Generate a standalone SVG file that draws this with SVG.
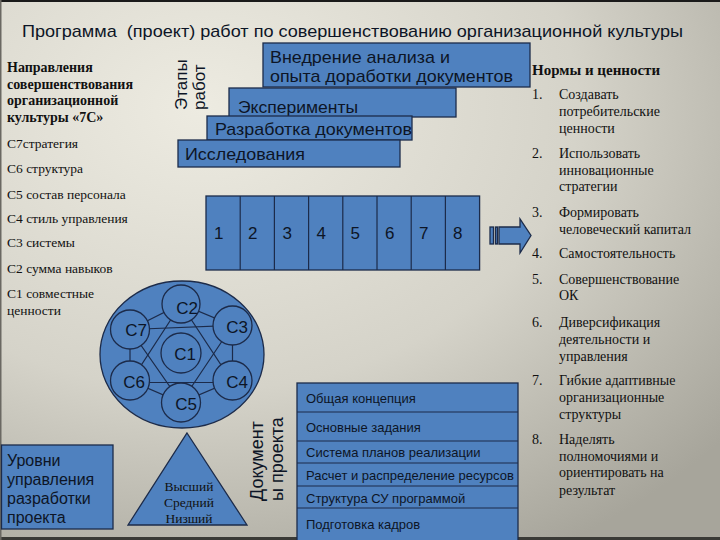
<svg xmlns="http://www.w3.org/2000/svg" width="720" height="540" viewBox="0 0 720 540">
<defs>
<radialGradient id="bg" cx="0.28" cy="0.2" r="0.95">
<stop offset="0" stop-color="#edebe1"/>
<stop offset="0.55" stop-color="#d5d3c9"/>
<stop offset="1" stop-color="#a7a59b"/>
</radialGradient>
<style>
.box{fill:#4f81bf;stroke:#1c2b4a;stroke-width:1.3}
.ln{stroke:#1c2b4a;stroke-width:1.2;fill:none}
.sans{font-family:"Liberation Sans",Arial,sans-serif;fill:#0d1526}
.st{font-size:17px}
.num{font-size:17px}
.doc{font-size:13px}
.cl{font-size:17px;text-anchor:middle}
.serif{font-family:"Liberation Serif","Times New Roman",serif;fill:#111}
.ls{font-size:13.5px}
.hd{font-size:14px;font-weight:bold}
.rs{font-size:14px}
.rh{font-size:15px;font-weight:bold}
.tri{font-size:13.5px;text-anchor:middle}
</style>
</defs>
<rect width="720" height="540" fill="url(#bg)"/>
<rect x="0" y="0" width="720" height="2" fill="#1a1a1a"/>
<rect x="0" y="537" width="720" height="3" fill="#3a3a36"/>
<rect x="0" y="0" width="1.5" height="540" fill="#6a6862"/>

<text id="title" class="sans" x="22" y="37" font-size="17" textLength="661" lengthAdjust="spacingAndGlyphs" fill="#111">Программа&#160; (проект) работ по совершенствованию организационной культуры</text>

<g id="directions" class="serif">
<text class="hd" x="7" y="72">Направления</text>
<text class="hd" x="7" y="89">совершенствования</text>
<text class="hd" x="7" y="105">организационной</text>
<text class="hd" x="7" y="122">культуры «7С»</text>
<text class="ls" x="7" y="148">С7стратегия</text>
<text class="ls" x="7" y="173">С6 структура</text>
<text class="ls" x="7" y="199">С5 состав персонала</text>
<text class="ls" x="7" y="223">С4 стиль управления</text>
<text class="ls" x="7" y="247">С3 системы</text>
<text class="ls" x="7" y="273">С2 сумма навыков</text>
<text class="ls" x="7" y="298">С1 совместные</text>
<text class="ls" x="7" y="315">ценности</text>
</g>

<g id="stages-label" class="sans" font-size="17">
<text transform="translate(187,110) rotate(-90)">Этапы</text>
<text transform="translate(205,110) rotate(-90)">работ</text>
</g>

<g id="stages">
<g id="stage-4">
<rect class="box" x="263" y="43" width="267" height="44"/>
<text class="sans st" x="270" y="63" textLength="180" lengthAdjust="spacingAndGlyphs">Внедрение анализа и</text>
<text class="sans st" x="270" y="82" textLength="243" lengthAdjust="spacingAndGlyphs">опыта доработки документов</text>
</g>
<g id="stage-3">
<rect class="box" x="229" y="88" width="227" height="29"/>
<text class="sans st" x="238" y="113" textLength="120" lengthAdjust="spacingAndGlyphs">Эксперименты</text>
</g>
<g id="stage-2">
<rect class="box" x="207" y="116" width="205" height="24"/>
<text class="sans st" x="215" y="135" textLength="197" lengthAdjust="spacingAndGlyphs">Разработка документов</text>
</g>
<g id="stage-1">
<rect class="box" x="178" y="140" width="222" height="27"/>
<text class="sans st" x="185" y="160" textLength="120" lengthAdjust="spacingAndGlyphs">Исследования</text>
</g>
</g>

<g id="phases">
<rect class="box" x="206" y="196" width="273.6" height="74"/>
<path class="ln" d="M240.2 196V270M274.4 196V270M308.6 196V270M342.8 196V270M377 196V270M411.2 196V270M445.4 196V270"/>
<g class="sans num">
<text x="214" y="239">1</text>
<text x="248" y="239">2</text>
<text x="282.5" y="239">3</text>
<text x="316.5" y="239">4</text>
<text x="350.5" y="239">5</text>
<text x="385" y="239">6</text>
<text x="419" y="239">7</text>
<text x="453" y="239">8</text>
</g>
</g>

<g id="arrow">
<rect class="box" x="490" y="227" width="3.5" height="17"/>
<rect class="box" x="495.5" y="227" width="2" height="17"/>
<path class="box" d="M499 227H520V219L531 235.5L520 253V244H499Z"/>
</g>

<g id="norms" class="serif">
<text class="rh" x="532" y="75">Нормы и ценности</text>
<g class="rs">
<text x="532" y="99">1.</text>
<text x="559" y="99">Создавать</text>
<text x="559" y="116">потребительские</text>
<text x="559" y="133">ценности</text>
<text x="532" y="158">2.</text>
<text x="559" y="158">Использовать</text>
<text x="559" y="175">инновационные</text>
<text x="559" y="191">стратегии</text>
<text x="532" y="217">3.</text>
<text x="559" y="217">Формировать</text>
<text x="559" y="234">человеческий капитал</text>
<text x="532" y="258">4.</text>
<text x="559" y="258">Самостоятельность</text>
<text x="532" y="284">5.</text>
<text x="559" y="284">Совершенствование</text>
<text x="559" y="300">ОК</text>
<text x="532" y="327">6.</text>
<text x="559" y="327">Диверсификация</text>
<text x="559" y="344">деятельности и</text>
<text x="559" y="361">управления</text>
<text x="532" y="385">7.</text>
<text x="559" y="385">Гибкие адаптивные</text>
<text x="559" y="402">организационные</text>
<text x="559" y="419">структуры</text>
<text x="532" y="444">8.</text>
<text x="559" y="444">Наделять</text>
<text x="559" y="461">полномочиями и</text>
<text x="559" y="477">ориентировать на</text>
<text x="559" y="495">результат</text>
</g>
</g>

<g id="model7s">
<ellipse class="box" cx="182" cy="354.5" rx="82" ry="73.5"/>
<g id="connectors">
<path class="ln" d="M130 329.5L181 304L232.5 325.5L232.5 380.5L181 402.5L130 380.5Z"/>
<path class="ln" d="M130 329.5L232.5 325.5L181 402.5Z"/>
<path class="ln" d="M181 304L130 382.5L232.5 382.5Z"/>
</g>
<g id="c2"><circle class="box" cx="181" cy="304" r="19"/><text class="sans cl" x="187" y="314">С2</text></g>
<g id="c7"><circle class="box" cx="130" cy="329.5" r="19.5"/><text class="sans cl" x="136" y="336">С7</text></g>
<g id="c3"><circle class="box" cx="232.5" cy="325.5" r="19.5"/><text class="sans cl" x="237" y="333">С3</text></g>
<g id="c1"><circle class="box" cx="181" cy="353" r="20"/><text class="sans cl" x="185" y="360">С1</text></g>
<g id="c6"><circle class="box" cx="130" cy="380.5" r="19.5"/><text class="sans cl" x="134" y="388">С6</text></g>
<g id="c4"><circle class="box" cx="232.5" cy="380.5" r="19.5"/><text class="sans cl" x="237" y="388">С4</text></g>
<g id="c5"><circle class="box" cx="181" cy="402.5" r="19.5"/><text class="sans cl" x="186" y="410">С5</text></g>
</g>

<g id="levels-triangle">
<path class="box" d="M187 433L247 525H128Z"/>
<text class="serif tri" x="189" y="491">Высший</text>
<text class="serif tri" x="189" y="507">Средний</text>
<text class="serif tri" x="189" y="523">Низший</text>
</g>

<g id="levels-box">
<rect class="box" x="1.5" y="445" width="111.5" height="84"/>
<g class="sans" font-size="16">
<text x="7" y="466">Уровни</text>
<text x="7" y="485">управления</text>
<text x="7" y="504">разработки</text>
<text x="7" y="523">проекта</text>
</g>
</g>

<g id="docs-label" class="sans" font-size="18">
<text transform="translate(263,501) rotate(-90)">Документ</text>
<text transform="translate(283,501) rotate(-90)">ы проекта</text>
</g>

<g id="documents">
<rect class="box" x="297" y="383" width="221" height="160"/>
<path class="ln" d="M297 412H518M297 441H518M297 463H518M297 486H518M297 508H518"/>
<g class="sans doc">
<text x="306" y="403">Общая концепция</text>
<text x="306" y="432">Основные задания</text>
<text x="306" y="457">Система планов реализации</text>
<text x="306" y="480">Расчет и распределение ресурсов</text>
<text x="306" y="503">Структура СУ программой</text>
<text x="306" y="529">Подготовка кадров</text>
</g>
</g>
</svg>
